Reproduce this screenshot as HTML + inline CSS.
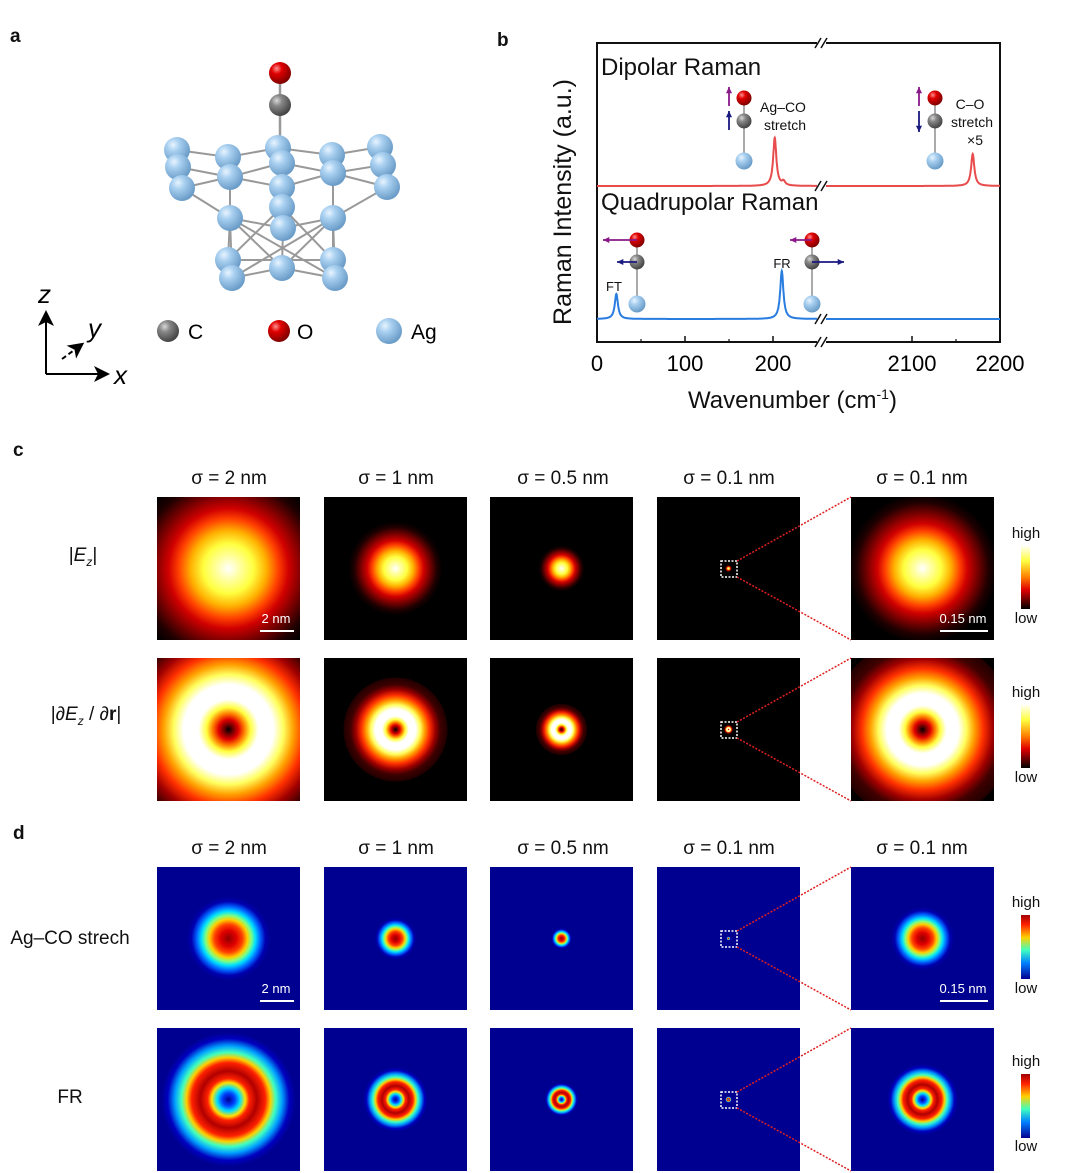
<!DOCTYPE html>
<html><head><meta charset="utf-8"><style>
body{margin:0;background:#fff;}
#root{position:relative;width:1080px;height:1173px;overflow:hidden;font-family:"Liberation Sans",Arial,sans-serif;color:#111;}
.t{position:absolute;white-space:nowrap;}
.map{position:absolute;width:143px;height:143px;}
.lbl{font-weight:bold;font-size:19px;}
.ttl{font-size:19px;transform:translateX(-50%);}
.sb{position:absolute;height:2px;background:#fff;}
.sbt{position:absolute;color:#fff;font-size:13px;transform:translateX(-50%);}
.cb{position:absolute;left:1021px;width:9px;height:64px;}
.hl{position:absolute;font-size:15px;transform:translateX(-50%);left:1026px;}
</style></head><body>
<div id="root">
<div class="t lbl" style="left:10px;top:26px">a</div>
<div class="t lbl" style="left:497px;top:30px">b</div>
<div class="t lbl" style="left:13px;top:440px">c</div>
<div class="t lbl" style="left:13px;top:823px">d</div>

<svg id="svgA" width="470" height="400" style="position:absolute;left:0;top:0">
<defs>
<radialGradient id="gAg" cx="0.35" cy="0.3" r="0.7"><stop offset="0" stop-color="#e8f4ff"/><stop offset="0.35" stop-color="#a9d0f0"/><stop offset="1" stop-color="#6a9cc8"/></radialGradient>
<radialGradient id="gO" cx="0.35" cy="0.3" r="0.7"><stop offset="0" stop-color="#ff9090"/><stop offset="0.35" stop-color="#e00000"/><stop offset="1" stop-color="#800000"/></radialGradient>
<radialGradient id="gC" cx="0.35" cy="0.3" r="0.7"><stop offset="0" stop-color="#d8d8d8"/><stop offset="0.35" stop-color="#888"/><stop offset="1" stop-color="#444"/></radialGradient>
<marker id="ah" markerWidth="8" markerHeight="8" refX="6" refY="4" orient="auto"><path d="M0,0 L8,4 L0,8 L2,4z" fill="#000"/></marker>
</defs>
<g id="bonds" stroke="#999" stroke-width="2"></g>
<g id="atoms"></g>
<line x1="46" y1="374" x2="46" y2="314" stroke="#000" stroke-width="2" marker-end="url(#ah)"/>
<line x1="46" y1="374" x2="106" y2="374" stroke="#000" stroke-width="2" marker-end="url(#ah)"/>
<line x1="62" y1="359" x2="81" y2="345" stroke="#000" stroke-width="2" stroke-dasharray="5,3" marker-end="url(#ah)"/>
<text x="38" y="303" font-size="26" font-style="italic" font-family="Liberation Sans">z</text>
<text x="88" y="337" font-size="26" font-style="italic" font-family="Liberation Sans">y</text>
<text x="114" y="384" font-size="26" font-style="italic" font-family="Liberation Sans">x</text>
<circle cx="168" cy="331" r="11" fill="url(#gC)"/><text x="188" y="339" font-size="21" font-family="Liberation Sans">C</text>
<circle cx="279" cy="331" r="11" fill="url(#gO)"/><text x="297" y="339" font-size="21" font-family="Liberation Sans">O</text>
<circle cx="389" cy="331" r="13" fill="url(#gAg)"/><text x="411" y="339" font-size="21" font-family="Liberation Sans">Ag</text>
</svg>

<svg id="svgB" width="560" height="420" style="position:absolute;left:520px;top:0">
<g transform="translate(-520,0)" id="bplot"></g>
</svg>

<div class="t ttl" style="left:229px;top:468px">σ = 2 nm</div>
<div class="t ttl" style="left:396px;top:468px">σ = 1 nm</div>
<div class="t ttl" style="left:563px;top:468px">σ = 0.5 nm</div>
<div class="t ttl" style="left:729px;top:468px">σ = 0.1 nm</div>
<div class="t ttl" style="left:922px;top:468px">σ = 0.1 nm</div>
<div class="t ttl" style="left:83px;top:545px">|<i>E</i><sub style="font-size:12px;font-style:italic">z</sub>|</div>
<div class="t ttl" style="left:86px;top:704px">|∂<i>E</i><sub style="font-size:12px;font-style:italic">z</sub> / ∂<b>r</b>|</div>

<div class="t ttl" style="left:229px;top:838px">σ = 2 nm</div>
<div class="t ttl" style="left:396px;top:838px">σ = 1 nm</div>
<div class="t ttl" style="left:563px;top:838px">σ = 0.5 nm</div>
<div class="t ttl" style="left:729px;top:838px">σ = 0.1 nm</div>
<div class="t ttl" style="left:922px;top:838px">σ = 0.1 nm</div>
<div class="t ttl" style="left:70px;top:928px">Ag–CO strech</div>
<div class="t ttl" style="left:70px;top:1087px">FR</div>

<div id="maps"></div>

<div class="cb" style="top:545px;background:linear-gradient(#fff,#ffff40 25%,#ff8000 50%,#e00000 70%,#000)"></div>
<div class="hl" style="top:525px">high</div>
<div class="hl" style="top:610px">low</div>
<div class="cb" style="top:704px;background:linear-gradient(#fff,#ffff40 25%,#ff8000 50%,#e00000 70%,#000)"></div>
<div class="hl" style="top:684px">high</div>
<div class="hl" style="top:769px">low</div>
<div class="cb" style="top:915px;background:linear-gradient(#a00000,#ff2000 15%,#ffd000 35%,#40ffc0 55%,#0080ff 75%,#000090)"></div>
<div class="hl" style="top:894px">high</div>
<div class="hl" style="top:980px">low</div>
<div class="cb" style="top:1074px;background:linear-gradient(#a00000,#ff2000 15%,#ffd000 35%,#40ffc0 55%,#0080ff 75%,#000090)"></div>
<div class="hl" style="top:1053px">high</div>
<div class="hl" style="top:1138px">low</div>

<svg width="1080" height="1173" style="position:absolute;left:0;top:0;pointer-events:none" id="overlay"></svg>
</div>

<script>
// ---------- Panel b data ----------
const xTicksLeft = [0, 100, 200];
const xTicksRight = [2100, 2200];
const dipolarPeaks = [202, 212, 2169];
const dipolarHeights = [48, 4, 32];
const quadPeaks = [22, 210];
const quadHeights = [25, 48];
const peakWidth = [2.2];

const NS = "http://www.w3.org/2000/svg";
function el(tag, attrs, parent){const e=document.createElementNS(NS,tag);for(const k in attrs)e.setAttribute(k,attrs[k]);if(parent)parent.appendChild(e);return e;}

const bp = document.getElementById('bplot');
const L=597,R=1000,T=43,B=342, BRK=822;
const sc = (773-597)/200;
function xs(v){ return v<1000 ? L+v*sc : 1000 - (2200-v)*sc; }
const baseRed=186, baseBlue=319;
function spec(peaks, hts, base, lo, hi){
  let d=''; let first=true;
  for(let v=lo; v<=hi; v+=0.25){
    let y=0; peaks.forEach((p,i)=>{const g=peakWidth[0]; y+=hts[i]*g*g/((v-p)*(v-p)+g*g);});
    const px=xs(v), py=base-y;
    d+=(first?'M':'L')+px.toFixed(1)+','+py.toFixed(1); first=false;
  }
  return d;
}
const frame=el('rect',{x:L,y:T,width:R-L,height:B-T,fill:'none',stroke:'#111','stroke-width':2},bp);


const r1=el('path',{d:spec(dipolarPeaks,dipolarHeights,baseRed,0,255),fill:'none',stroke:'#e84c4c','stroke-width':2},bp);


const r2=el('path',{d:spec(dipolarPeaks,dipolarHeights,baseRed,1997,2200),fill:'none',stroke:'#e84c4c','stroke-width':2},bp);


const b1=el('path',{d:spec(quadPeaks,quadHeights,baseBlue,0,255),fill:'none',stroke:'#2a7de0','stroke-width':2},bp);


const b2=el('path',{d:spec(quadPeaks,quadHeights,baseBlue,1997,2200),fill:'none',stroke:'#2a7de0','stroke-width':2},bp);


[T,baseRed,baseBlue,B].forEach(y=>{
  el('rect',{x:BRK-5,y:y-3,width:9,height:6,fill:'#fff'},bp);
  el('line',{x1:BRK-7,y1:y+5,x2:BRK-1,y2:y-5,stroke:'#111','stroke-width':1.5},bp);
  el('line',{x1:BRK-1,y1:y+5,x2:BRK+5,y2:y-5,stroke:'#111','stroke-width':1.5},bp);
});
xTicksLeft.concat(xTicksRight).forEach(v=>{
  const x=xs(v);
  el('line',{x1:x,y1:B,x2:x,y2:B-6,stroke:'#111','stroke-width':1.5},bp);
  const t=el('text',{x:x,y:B+29,'font-size':22,'text-anchor':'middle','font-family':'Liberation Sans'},bp);
  t.textContent=v;
  
  
});
[50,150,2150].forEach(v=>{const x=xs(v);el('line',{x1:x,y1:B,x2:x,y2:B-3,stroke:'#111','stroke-width':1.2},bp);});
function txt(s,x,y,size,anchor,name){const t=el('text',{x:x,y:y,'font-size':size,'text-anchor':anchor||'start','font-family':'Liberation Sans',fill:'#111'},bp);t.textContent=s;return t;}
txt('Dipolar Raman',601,75,24,'start','dipolar-label');
txt('Quadrupolar Raman',601,210,24,'start','quadrupolar-label');
txt('Ag–CO',783,112,14,'middle','agco-label');
txt('stretch',785,130,14,'middle','agco-stretch-label');
txt('C–O',970,109,14,'middle','co-label');
txt('stretch',972,127,14,'middle','co-stretch-label');
txt('×5',975,145,14,'middle','scale-x5-label');
txt('FT',614,291,13,'middle','ft-label');
txt('FR',782,268,13,'middle','fr-label');
const xl=txt('Wavenumber (cm',688,408,24,'start','x-axis-title');
const sup=el('tspan',{'font-size':14,dy:-9},xl);sup.textContent='-1';
const cl=el('tspan',{dy:9},xl);cl.textContent=')';
const yl=txt('Raman  Intensity (a.u.)',0,0,25,'middle','y-axis-title');
yl.setAttribute('transform','translate(571,202) rotate(-90)');
function mol(x,yO,yC,yAg){
  el('line',{x1:x,y1:yO,x2:x,y2:yAg,stroke:'#aaa','stroke-width':2},bp);
  el('circle',{cx:x,cy:yAg,r:8.5,fill:'url(#gAg)'},bp);
  el('circle',{cx:x,cy:yC,r:7.5,fill:'url(#gC)'},bp);
  el('circle',{cx:x,cy:yO,r:7.5,fill:'url(#gO)'},bp);
}
function arr(x1,y1,x2,y2,c){
  el('line',{x1:x1,y1:y1,x2:x2,y2:y2,stroke:c,'stroke-width':1.8},bp);
  const a=Math.atan2(y2-y1,x2-x1),s=7;
  el('path',{d:`M${x2},${y2} L${x2-s*Math.cos(a-0.45)},${y2-s*Math.sin(a-0.45)} L${x2-s*Math.cos(a+0.45)},${y2-s*Math.sin(a+0.45)}Z`,fill:c},bp);
}
mol(744,98,121,161); arr(729,106,729,87,'#8a1a8a'); arr(729,130,729,111,'#1a1a80');
mol(935,98,121,161); arr(919,106,919,87,'#8a1a8a'); arr(919,111,919,132,'#1a1a80');
mol(637,240,262,304); arr(637,240,603,240,'#8a1a8a'); arr(637,262,617,262,'#1a1a80');
mol(812,240,262,304); arr(812,240,790,240,'#8a1a8a'); arr(812,262,844,262,'#1a1a80');

// ---------- Panel a atoms ----------
const bondsG=document.getElementById('bonds'), atomsG=document.getElementById('atoms');
const ag=[[177,150],[228,157],[278,148],[332,155],[380,147],[178,167],[230,177],[282,163],[333,173],[383,165],[182,188],[282,187],[387,187],[282,207],[230,218],[333,218],[283,228],[228,260],[333,260],[232,278],[282,268],[335,278]];
const bonds=[[0,1],[1,2],[2,3],[3,4],[5,6],[6,7],[7,8],[8,9],[10,6],[6,11],[11,8],[8,12],[10,14],[12,15],[14,16],[16,15],[14,19],[15,21],[19,20],[20,21],[14,20],[15,20],[16,20],[6,14],[8,15],[11,16],[14,21],[15,19],[17,18],[17,14],[18,15],[13,17],[13,18],[1,6],[3,8]];
bonds.forEach(b=>el('line',{x1:ag[b[0]][0],y1:ag[b[0]][1],x2:ag[b[1]][0],y2:ag[b[1]][1]},bondsG));
el('line',{x1:280,y1:73,x2:280,y2:160,stroke:'#999','stroke-width':2.5},atomsG);
ag.forEach(p=>el('circle',{cx:p[0],cy:p[1],r:13,fill:'url(#gAg)'},atomsG));
el('circle',{cx:280,cy:105,r:11,fill:'url(#gC)'},atomsG);
el('circle',{cx:280,cy:73,r:11,fill:'url(#gO)'},atomsG);

// ---------- heatmaps ----------
const colX=[157,324,490,657,851];
const rowY=[497,658,867,1028];
const scaleEz=[1,0.47,0.23,0.035,0.75];
const scaleGr=[1,0.45,0.22,0.04,0.8];
const scaleAg=[1,0.5,0.25,0.05,0.75];
const scaleFr=[1.05,0.5,0.26,0.05,0.55];
const ezStops=[['#fff',0],['#ffffa0',12],['#ffff40',25],['#ffb000',38],['#ff4000',50],['#d00000',60],['#700000',75],['#200000',88],['#000',100]];
const grStops=[['#000',0],['#600000',4],['#e00000',10],['#ff8000',16],['#ffff40',22],['#fff',30],['#fff',45],['#ffff60',55],['#ffa000',65],['#ff3000',76],['#a00000',88],['#400000',100],['#200000',115]];
const agStops=[['#900000',0],['#e00000',8],['#ff4000',14],['#ffd000',19],['#80ff80',23],['#00e0ff',27],['#0060ff',32],['#0000b0',37],['#000090',42]];
const frStops=[['#000090',0],['#0040ff',6],['#00e0ff',11],['#ffe000',16],['#ff2000',20],['#b00000',27],['#ff2000',35],['#ffd000',40],['#40ffc0',45],['#00a0ff',51],['#0000c0',58],['#000090',64]];
const rowsDef=[[ezStops,scaleEz,'#000','ez'],[grStops,scaleGr,'#000','grad'],[agStops,scaleAg,'#000090','agco'],[frStops,scaleFr,'#000090','fr']];
const maps=document.getElementById('maps');
rowsDef.forEach((rd,ri)=>{
  colX.forEach((x,ci)=>{
    const d=document.createElement('div');
    d.className='map';
    d.style.left=x+'px'; d.style.top=rowY[ri]+'px';
    const s=rd[1][ci];
    const st=rd[0].map(p=>p[0]+' '+(p[1]*s).toFixed(2)+'px').join(',');
    d.style.background='radial-gradient(circle at 50% 50%,'+st+','+rd[2]+' '+(rd[0][rd[0].length-1][1]*s+0.5).toFixed(2)+'px)';
    
    
    maps.appendChild(d);
  });
});
[[497,'2 nm',260,294,276],[867,'2 nm',260,294,276],[497,'0.15 nm',940,988,963],[867,'0.15 nm',940,988,963]].forEach(s=>{
  const b=document.createElement('div');b.className='sb';b.style.left=s[2]+'px';b.style.width=(s[3]-s[2])+'px';b.style.top=(s[0]+133)+'px';
  
  
  maps.appendChild(b);
  const t=document.createElement('div');t.className='sbt';t.style.left=s[4]+'px';t.style.top=(s[0]+114)+'px';t.textContent=s[1];
  
  
  maps.appendChild(t);
});
const ov=document.getElementById('overlay');
rowY.forEach(y=>{
  const cy=y+72;
  el('rect',{x:721,y:cy-8,width:16,height:16,fill:'none',stroke:'#fff','stroke-width':1.5,'stroke-dasharray':'2,1.5'},ov);
  el('line',{x1:737,y1:cy-8,x2:851,y2:y,stroke:'#e02020','stroke-width':1.5,'stroke-dasharray':'2,1.5'},ov);
  el('line',{x1:737,y1:cy+8,x2:851,y2:y+143,stroke:'#e02020','stroke-width':1.5,'stroke-dasharray':'2,1.5'},ov);
});
</script>
</body></html>
